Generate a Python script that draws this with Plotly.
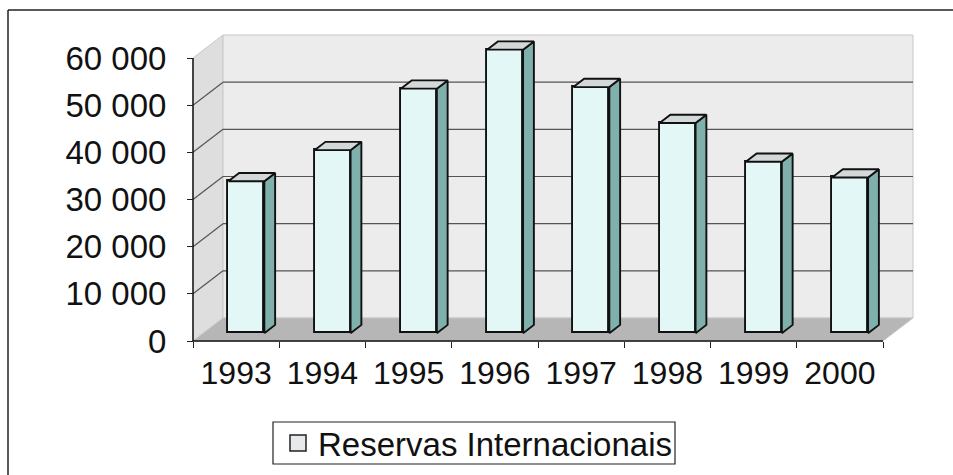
import plotly.graph_objects as go

# ---------------- data ----------------
years = ["1993", "1994", "1995", "1996", "1997", "1998", "1999", "2000"]
reservas = [32211, 38806, 51840, 60110, 52173, 44556, 36342, 33011]
y_tickvals = [0, 10000, 20000, 30000, 40000, 50000, 60000]
y_ticktext = ["0", "10 000", "20 000", "30 000", "40 000", "50 000", "60 000"]
series_name = "Reservas Internacionais"

# ---------------- geometry (pixels -> data) ----------------
W, H = 953, 475
FRONT_LEFT_PX = 193      # front y-axis edge
FRONT_BOTTOM_PX = 341    # front floor edge (value 0)
PAD = 6
RIGHT_PX = 915
TOP_PX = 30
ML = FRONT_LEFT_PX - PAD
MB = H - FRONT_BOTTOM_PX - PAD
MR = W - RIGHT_PX
MT = TOP_PX
PW = W - ML - MR
PH = H - MT - MB

n = len(years)
xs = list(range(n))
px_per_cat = 86.25
ymax_axis = y_tickvals[-1]
px_per_unit = 283.0 / ymax_axis

x_lo = -0.5 - PAD / px_per_cat
x_hi = -0.5 + (RIGHT_PX - FRONT_LEFT_PX) / px_per_cat
y_lo = -PAD / px_per_unit
y_hi = (FRONT_BOTTOM_PX - TOP_PX) / px_per_unit

DX = 30 / px_per_cat          # depth offset in x (categories)
DY = 23 / px_per_unit         # depth offset in y (value units)
f1, f2 = 0.34, 0.70           # bar front / back depth fractions
bar_w = 36 / px_per_cat

def px2paper_x(px):
    return (px - ML) / PW

def px2paper_y(py):
    return (H - MB - py) / PH

# ---------------- colours ----------------
C_FRONT = "#e4f7f7"
C_SIDE = "#7fb0ab"
C_TOP = "#d3d9d9"
C_BACK = "#ececec"
C_LEFT = "#dedede"
C_FLOOR = "#b6b6b6"
C_GRID = "#555555"
C_EDGE = "#111111"

fig = go.Figure()

# front faces
fig.add_trace(go.Bar(
    x=[i + f1 * DX for i in xs],
    y=reservas,
    base=[f1 * DY] * n,
    width=bar_w,
    marker=dict(color=C_FRONT, line=dict(color=C_EDGE, width=1.9)),
    showlegend=False, hoverinfo="skip",
))

# side and top faces
sx, sy = [], []
tx, ty = [], []
dd_x = (f2 - f1) * DX
dd_y = (f2 - f1) * DY
for i, v in zip(xs, reservas):
    xl = i + f1 * DX - bar_w / 2
    xr = i + f1 * DX + bar_w / 2
    b = f1 * DY
    sx += [xr, xr + dd_x, xr + dd_x, xr, xr, None]
    sy += [b, b + dd_y, v + b + dd_y, v + b, b, None]
    tx += [xl, xr, xr + dd_x, xl + dd_x, xl, None]
    ty += [v + b, v + b, v + b + dd_y, v + b + dd_y, v + b, None]

fig.add_trace(go.Scatter(x=sx, y=sy, mode="lines", fill="toself", fillcolor=C_SIDE,
                         line=dict(color=C_EDGE, width=1.9), showlegend=False,
                         hoverinfo="skip"))
fig.add_trace(go.Scatter(x=tx, y=ty, mode="lines", fill="toself", fillcolor=C_TOP,
                         line=dict(color=C_EDGE, width=1.9), showlegend=False,
                         hoverinfo="skip"))

# legend entry
fig.add_trace(go.Scatter(x=[None], y=[None], mode="markers", name=series_name,
                         marker=dict(symbol="square", size=20, color="#e6eaea",
                                     line=dict(color="#222222", width=1.5))))

# ---------------- walls / floor / grid (shapes, below traces) ----------------
shapes = []
xa = -0.5
xb = n - 0.5
# left wall
shapes.append(dict(type="path", xref="x", yref="y", layer="below",
                   path=f"M {xa},0 L {xa+DX},{DY} L {xa+DX},{ymax_axis+DY} L {xa},{ymax_axis} Z",
                   fillcolor=C_LEFT, line=dict(color="#c8c8c8", width=1)))
# back wall
shapes.append(dict(type="rect", xref="x", yref="y", layer="below",
                   x0=xa + DX, x1=xb + DX, y0=DY, y1=ymax_axis + DY,
                   fillcolor=C_BACK, line=dict(color="#c8c8c8", width=1)))
# floor
shapes.append(dict(type="path", xref="x", yref="y", layer="below",
                   path=f"M {xa},0 L {xb},0 L {xb+DX},{DY} L {xa+DX},{DY} Z",
                   fillcolor=C_FLOOR, line=dict(color="#c8c8c8", width=1)))
# gridlines
for v in y_tickvals[1:-1]:
    shapes.append(dict(type="line", xref="x", yref="y", layer="below",
                       x0=xa + DX, x1=xb + DX, y0=v + DY, y1=v + DY,
                       line=dict(color=C_GRID, width=1.2)))
    shapes.append(dict(type="line", xref="x", yref="y", layer="below",
                       x0=xa, x1=xa + DX, y0=v, y1=v + DY,
                       line=dict(color=C_GRID, width=1.2)))
# front axis lines
shapes.append(dict(type="line", xref="x", yref="y", layer="below",
                   x0=xa, x1=xa, y0=0, y1=ymax_axis, line=dict(color=C_EDGE, width=1.5)))
shapes.append(dict(type="line", xref="x", yref="y", layer="below",
                   x0=xa, x1=xb, y0=0, y1=0, line=dict(color=C_EDGE, width=1.5)))
# outer chart frame (top and left edges visible)
shapes.append(dict(type="line", xref="paper", yref="paper", layer="above",
                   x0=px2paper_x(8), x1=px2paper_x(960), y0=px2paper_y(10), y1=px2paper_y(10),
                   line=dict(color="#222222", width=1.5)))
shapes.append(dict(type="line", xref="paper", yref="paper", layer="above",
                   x0=px2paper_x(8), x1=px2paper_x(8), y0=px2paper_y(10), y1=px2paper_y(480),
                   line=dict(color="#222222", width=1.5)))
# legend frame
shapes.append(dict(type="rect", xref="paper", yref="paper", layer="above",
                   x0=px2paper_x(273), x1=px2paper_x(675),
                   y0=px2paper_y(464), y1=px2paper_y(422),
                   line=dict(color="#222222", width=1.2), fillcolor="rgba(0,0,0,0)"))

FONT = "Liberation Sans, Arial, sans-serif"

fig.update_layout(
    width=W, height=H,
    margin=dict(l=ML, r=MR, t=MT, b=MB, pad=0, autoexpand=False),
    paper_bgcolor="white", plot_bgcolor="white",
    shapes=shapes,
    bargap=0,
    font=dict(family=FONT, size=32, color="black"),
    xaxis=dict(range=[x_lo, x_hi], showgrid=False, zeroline=False, showline=False,
               tickvals=[i - 0.5 for i in range(n + 1)], ticktext=[""] * (n + 1),
               ticks="outside", ticklen=6, tickwidth=1.3, tickcolor="#222222",
               anchor="free", position=PAD / PH, fixedrange=True),
    xaxis2=dict(range=[x_lo, x_hi], overlaying="x", side="bottom", showgrid=False,
                zeroline=False, showline=False, tickvals=xs, ticktext=years,
                ticks="", anchor="free", position=PAD / PH,
                tickfont=dict(family=FONT, size=32, color="#111111"),
                ticklabelstandoff=10, fixedrange=True),
    yaxis=dict(range=[y_lo, y_hi], showgrid=False, zeroline=False, showline=False,
               tickvals=y_tickvals, ticktext=y_ticktext,
               ticks="outside", ticklen=6, tickwidth=1.3, tickcolor="#222222",
               tickfont=dict(family=FONT, size=33, color="#111111"),
               anchor="free", position=PAD / PW, ticklabelstandoff=14, fixedrange=True),
    legend=dict(orientation="h", x=px2paper_x(478), xanchor="center",
                y=px2paper_y(443), yanchor="middle",
                borderwidth=0, bgcolor="rgba(0,0,0,0)",
                font=dict(family=FONT, size=33, color="#111111"),
                itemsizing="trace"),
)

# attach a trace to xaxis2 so its labels render
fig.add_trace(go.Scatter(x=[None], y=[None], xaxis="x2", yaxis="y", showlegend=False,
                         hoverinfo="skip"))

fig.write_html("out.html")
